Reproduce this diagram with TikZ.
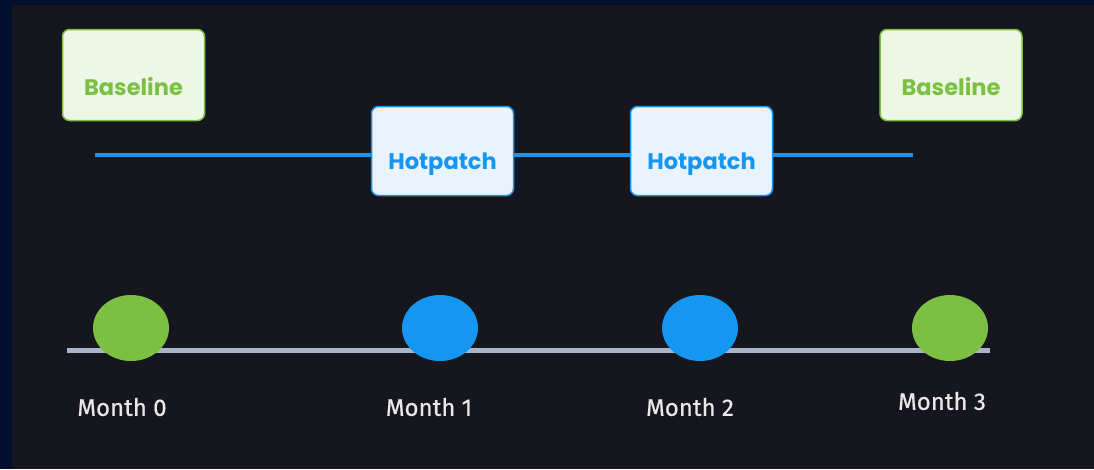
\documentclass[tikz,border=0pt]{standalone}
\usepackage{fontspec}
\usetikzlibrary{shapes.geometric}
\setmainfont{Fira Sans}
\newfontfamily\pop{Poppins}[UprightFont=* Bold]
\newfontfamily\med{Fira Sans}[FakeBold=0.6]
\definecolor{navy}{HTML}{020F2E}
\definecolor{panel}{HTML}{16161E}
\definecolor{gr}{HTML}{7BC043}
\definecolor{grfill}{HTML}{EDF7E6}
\definecolor{bl}{HTML}{1596F0}
\definecolor{blfill}{HTML}{E8F3FE}
\definecolor{axis}{HTML}{A9B4C8}
\definecolor{lbl}{HTML}{E8E8E8}
\begin{document}
\begin{tikzpicture}[x=1pt,y=-1pt,
  basebox/.style={draw=gr,line width=1.5pt,fill=grfill,rounded corners=7pt,minimum width=142pt,minimum height=91pt},
  hotbox/.style={draw=bl,line width=1.5pt,fill=blfill,rounded corners=7pt,minimum width=142pt,minimum height=89pt},
  gtext/.style={text=gr,font=\pop\fontsize{22.5}{26}\selectfont},
  btext/.style={text=bl,font=\pop\fontsize{22.5}{26}\selectfont},
  dotg/.style={ellipse,fill=gr,minimum width=76pt,minimum height=66pt,inner sep=0pt},
  dotb/.style={ellipse,fill=bl,minimum width=76pt,minimum height=66pt,inner sep=0pt},
  month/.style={text=lbl,font=\med\fontsize{24}{28}\selectfont},
  hline/.style={draw=bl,line width=4pt},
  aline/.style={draw=axis,line width=5pt}]
\useasboundingbox (0,0) rectangle (1094,469);
\fill[navy] (0,0) rectangle (1094,469);
\fill[panel] (12,5) rectangle (1094,469);
% baseline boxes
\node[basebox] (b0) at (133.5,75) {};
\node[gtext] (b0t) at (133.5,87) {Baseline};
\node[basebox] (b3) at (951,75) {};
\node[gtext] (b3t) at (951,87) {Baseline};
% blue line and hotpatches
\coordinate (ls) at (95,155);
\coordinate (le) at (913,155);
\node[hotbox] (h1) at (442.5,151) {};
\node[btext] (h1t) at (442.5,164) {Hotpatch};
\node[hotbox] (h2) at (701.5,151) {};
\node[btext] (h2t) at (701.5,164) {Hotpatch};
\draw[hline] (ls) -- (h1.west |- ls);
\draw[hline] (h1.east |- ls) -- (h2.west |- ls);
\draw[hline] (h2.east |- ls) -- (le);
% axis
\coordinate (as) at (67,350);
\coordinate (ae) at (990,350);
\draw[aline] (as) -- (ae);
\node[dotg] (m0) at (131,328) {};
\node[dotb] (m1) at (440,328) {};
\node[dotb] (m2) at (700,328) {};
\node[dotg] (m3) at (950,328) {};
\node[month] (l0) at (122,407) {Month 0};
\node[month] (l1) at (429,407) {Month 1};
\node[month] (l2) at (690,407) {Month 2};
\node[month] (l3) at (942,401) {Month 3};
\end{tikzpicture}
\end{document}
